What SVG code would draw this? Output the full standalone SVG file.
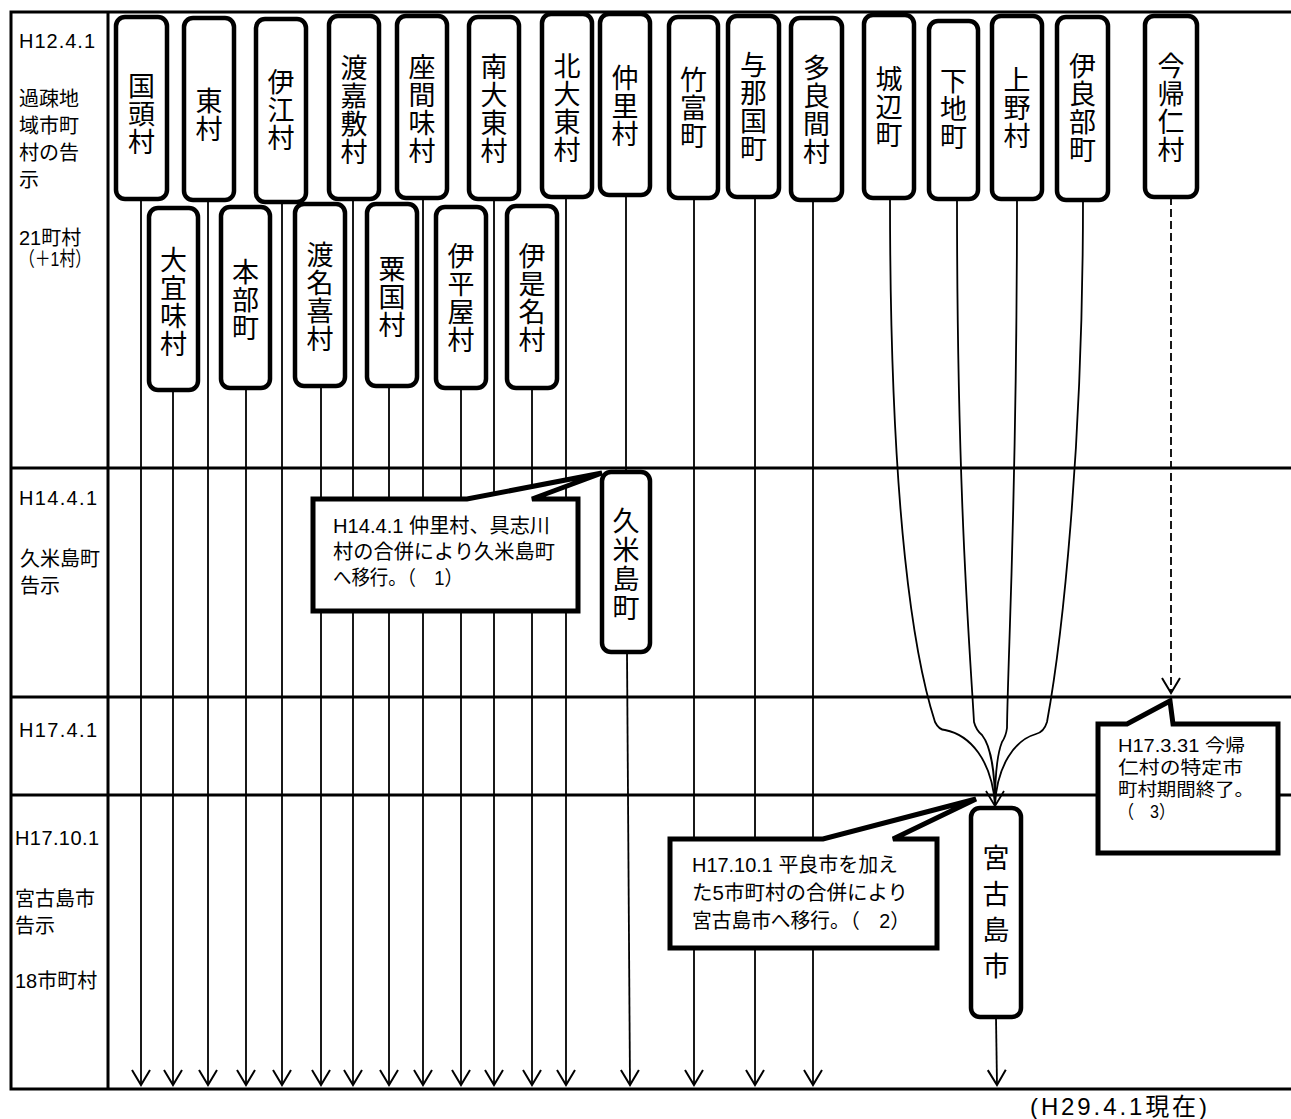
<svg xmlns="http://www.w3.org/2000/svg" width="1291" height="1119" viewBox="0 0 1291 1119">
<style>
.fr{fill:none;stroke:#000;stroke-width:3}
.ln{fill:none;stroke:#000;stroke-width:1.8}
.ar{marker-end:url(#ah)}
.dash{stroke-dasharray:8 4}
.box{fill:#fff;stroke:#000;stroke-width:4.5}
.bt{font-family:"Noto Sans CJK JP","Noto Sans CJK SC",sans-serif;font-size:27px;text-anchor:middle;fill:#000}
.lbl{font-family:"Liberation Sans","Noto Sans CJK JP",sans-serif;font-size:20px;fill:#000}
.co{fill:#fff;stroke:#000;stroke-width:5;stroke-linejoin:miter}
.ct{font-family:"Liberation Sans","Noto Sans CJK JP",sans-serif;font-size:20px;fill:#000}
.ct3{font-size:18px}
</style>
<defs>
<marker id="ah" markerUnits="userSpaceOnUse" viewBox="-17 -11 20 22" markerWidth="20" markerHeight="22" refX="0" refY="0" orient="auto">
<path d="M-15,-9 L0,0 L-15,9" fill="none" stroke="#000" stroke-width="2" stroke-dasharray="none"/>
</marker>
</defs>
<rect width="1291" height="1119" fill="#fff"/>

<g id="frame">
<path class="fr" d="M1291,12 H11 V1089 H1291"/>
<path class="fr" d="M108,12 V1089"/>
<path class="fr" d="M11,468 H1291 M11,697 H1291 M11,795 H1291"/>
</g>

<g id="period-labels">
<text class="lbl" x="19" y="48" textLength="76" lengthAdjust="spacing">H12.4.1</text>
<text class="lbl" x="19" y="106">過疎地</text>
<text class="lbl" x="19" y="133">域市町</text>
<text class="lbl" x="19" y="160">村の告</text>
<text class="lbl" x="19" y="187">示</text>
<text class="lbl" x="19" y="245">21町村</text>
<text class="lbl" x="19" y="266" textLength="72" lengthAdjust="spacingAndGlyphs">（＋1村）</text>
<text class="lbl" x="19" y="505" textLength="78" lengthAdjust="spacing">H14.4.1</text>
<text class="lbl" x="20" y="566">久米島町</text>
<text class="lbl" x="20" y="593">告示</text>
<text class="lbl" x="19" y="737" textLength="78" lengthAdjust="spacing">H17.4.1</text>
<text class="lbl" x="15" y="845" textLength="84" lengthAdjust="spacing">H17.10.1</text>
<text class="lbl" x="15" y="906">宮古島市</text>
<text class="lbl" x="15" y="933">告示</text>
<text class="lbl" x="15" y="988">18市町村</text>
</g>

<g id="connectors">
<path class="ln ar" d="M141,199 V1085"/>
<path class="ln ar" d="M208,200 V1085"/>
<path class="ln ar" d="M282,202 V1085"/>
<path class="ln ar" d="M353,199 V1085"/>
<path class="ln ar" d="M423,198 V1085"/>
<path class="ln ar" d="M494,199 V1085"/>
<path class="ln ar" d="M566,197 V1085"/>
<path class="ln ar" d="M694,198 V1085"/>
<path class="ln ar" d="M755,197 V1085"/>
<path class="ln ar" d="M813,200 V1085"/>
<path class="ln ar" d="M173,390 V1085"/>
<path class="ln ar" d="M246,388 V1085"/>
<path class="ln ar" d="M321,386 V1085"/>
<path class="ln ar" d="M389,386 V1085"/>
<path class="ln ar" d="M461,388 V1085"/>
<path class="ln ar" d="M532,388 V1085"/>
<path class="ln" d="M626,195 V472"/>
<path class="ln ar" d="M627,652 L630,1085"/>
<path class="ln ar" d="M996,1017 L997,1085"/>
<path class="ln" d="M890,199 C890,520 915,660 935,722 Q939,730 945,730 C970,735 992,760 995,805"/>
<path class="ln" d="M957,199 C957,500 970,650 974,722 Q976,730 982,735 C990,745 995,770 995,805"/>
<path class="ln" d="M1017,199 C1017,500 1008,650 1007,728 Q1006,736 1002,742 C998,752 995,775 995,805"/>
<path class="ln" d="M1083,199 C1083,450 1062,640 1047,722 Q1044,732 1036,734 C1015,740 997,765 995,805"/>
<path class="ln" d="M986,791 L995,806 L1004,791" stroke-width="2"/>
<path class="ln dash ar" d="M1171,197 V693"/>
</g>

<g id="n-kunigami"><rect class="box" x="116" y="17" width="51" height="182" rx="9"/><text class="bt"><tspan x="141.5" y="96">国</tspan><tspan x="141.5" y="124">頭</tspan><tspan x="141.5" y="152">村</tspan></text></g>
<g id="n-higashi"><rect class="box" x="184" y="18" width="50" height="182" rx="9"/><text class="bt"><tspan x="209" y="111">東</tspan><tspan x="209" y="139">村</tspan></text></g>
<g id="n-ie"><rect class="box" x="256" y="19" width="50" height="183" rx="9"/><text class="bt"><tspan x="281" y="92">伊</tspan><tspan x="281" y="120">江</tspan><tspan x="281" y="148">村</tspan></text></g>
<g id="n-tokashiki"><rect class="box" x="329" y="16" width="50" height="183" rx="9"/><text class="bt"><tspan x="354" y="78">渡</tspan><tspan x="354" y="106">嘉</tspan><tspan x="354" y="134">敷</tspan><tspan x="354" y="162">村</tspan></text></g>
<g id="n-zamami"><rect class="box" x="397" y="16" width="50" height="182" rx="9"/><text class="bt"><tspan x="422" y="77">座</tspan><tspan x="422" y="105">間</tspan><tspan x="422" y="133">味</tspan><tspan x="422" y="161">村</tspan></text></g>
<g id="n-minamidaito"><rect class="box" x="469" y="17" width="50" height="182" rx="9"/><text class="bt"><tspan x="494" y="77">南</tspan><tspan x="494" y="105">大</tspan><tspan x="494" y="133">東</tspan><tspan x="494" y="161">村</tspan></text></g>
<g id="n-kitadaito"><rect class="box" x="542" y="14" width="50" height="183" rx="9"/><text class="bt"><tspan x="567" y="76">北</tspan><tspan x="567" y="104">大</tspan><tspan x="567" y="132">東</tspan><tspan x="567" y="160">村</tspan></text></g>
<g id="n-nakazato"><rect class="box" x="600" y="14" width="50" height="181" rx="9"/><text class="bt"><tspan x="625" y="88">仲</tspan><tspan x="625" y="116">里</tspan><tspan x="625" y="144">村</tspan></text></g>
<g id="n-taketomi"><rect class="box" x="669" y="17" width="49" height="181" rx="9"/><text class="bt"><tspan x="693.5" y="90">竹</tspan><tspan x="693.5" y="118">富</tspan><tspan x="693.5" y="146">町</tspan></text></g>
<g id="n-yonaguni"><rect class="box" x="728" y="16" width="51" height="181" rx="9"/><text class="bt"><tspan x="753.5" y="75">与</tspan><tspan x="753.5" y="103">那</tspan><tspan x="753.5" y="131">国</tspan><tspan x="753.5" y="159">町</tspan></text></g>
<g id="n-tarama"><rect class="box" x="791" y="18" width="51" height="182" rx="9"/><text class="bt"><tspan x="816.5" y="78">多</tspan><tspan x="816.5" y="106">良</tspan><tspan x="816.5" y="134">間</tspan><tspan x="816.5" y="162">村</tspan></text></g>
<g id="n-gusukube"><rect class="box" x="864" y="15" width="50" height="183" rx="9"/><text class="bt"><tspan x="889" y="89">城</tspan><tspan x="889" y="117">辺</tspan><tspan x="889" y="145">町</tspan></text></g>
<g id="n-shimoji"><rect class="box" x="929" y="21" width="49" height="178" rx="9"/><text class="bt"><tspan x="953.5" y="91">下</tspan><tspan x="953.5" y="119">地</tspan><tspan x="953.5" y="147">町</tspan></text></g>
<g id="n-ueno"><rect class="box" x="992" y="16" width="50" height="183" rx="9"/><text class="bt"><tspan x="1017" y="90">上</tspan><tspan x="1017" y="118">野</tspan><tspan x="1017" y="146">村</tspan></text></g>
<g id="n-irabu"><rect class="box" x="1057" y="17" width="51" height="183" rx="9"/><text class="bt"><tspan x="1082.5" y="76">伊</tspan><tspan x="1082.5" y="104">良</tspan><tspan x="1082.5" y="132">部</tspan><tspan x="1082.5" y="160">町</tspan></text></g>
<g id="n-nakijin"><rect class="box" x="1145" y="16" width="52" height="181" rx="9"/><text class="bt"><tspan x="1171" y="76">今</tspan><tspan x="1171" y="104">帰</tspan><tspan x="1171" y="132">仁</tspan><tspan x="1171" y="160">村</tspan></text></g>

<g id="n-ogimi"><rect class="box" x="149" y="208" width="49" height="182" rx="9"/><text class="bt"><tspan x="173.5" y="270">大</tspan><tspan x="173.5" y="298">宜</tspan><tspan x="173.5" y="326">味</tspan><tspan x="173.5" y="354">村</tspan></text></g>
<g id="n-motobu"><rect class="box" x="221" y="207" width="49" height="181" rx="9"/><text class="bt"><tspan x="245.5" y="282">本</tspan><tspan x="245.5" y="310">部</tspan><tspan x="245.5" y="338">町</tspan></text></g>
<g id="n-tonaki"><rect class="box" x="295" y="204" width="50" height="182" rx="9"/><text class="bt"><tspan x="320" y="265">渡</tspan><tspan x="320" y="293">名</tspan><tspan x="320" y="321">喜</tspan><tspan x="320" y="349">村</tspan></text></g>
<g id="n-aguni"><rect class="box" x="367" y="204" width="50" height="182" rx="9"/><text class="bt"><tspan x="392" y="279">粟</tspan><tspan x="392" y="307">国</tspan><tspan x="392" y="335">村</tspan></text></g>
<g id="n-iheya"><rect class="box" x="436" y="207" width="50" height="181" rx="9"/><text class="bt"><tspan x="461" y="266">伊</tspan><tspan x="461" y="294">平</tspan><tspan x="461" y="322">屋</tspan><tspan x="461" y="350">村</tspan></text></g>
<g id="n-izena"><rect class="box" x="507" y="206" width="50" height="182" rx="9"/><text class="bt"><tspan x="532" y="266">伊</tspan><tspan x="532" y="294">是</tspan><tspan x="532" y="322">名</tspan><tspan x="532" y="350">村</tspan></text></g>

<g id="n-kumejima"><rect class="box" x="602" y="472" width="48" height="180" rx="9"/><text class="bt"><tspan x="626" y="531">久</tspan><tspan x="626" y="560">米</tspan><tspan x="626" y="589">島</tspan><tspan x="626" y="618">町</tspan></text></g>
<g id="n-miyakojima"><rect class="box" x="971" y="808" width="50" height="209" rx="9"/><text class="bt"><tspan x="996" y="868">宮</tspan><tspan x="996" y="904">古</tspan><tspan x="996" y="940">島</tspan><tspan x="996" y="976">市</tspan></text></g>

<g id="callout-1">
<path class="co" d="M313,499 H467 L602,473 L532,499 H578 V611 H313 Z"/>
<text class="ct" x="333" y="533" textLength="217" lengthAdjust="spacingAndGlyphs">H14.4.1 仲里村、具志川</text>
<text class="ct" x="333" y="559" textLength="222" lengthAdjust="spacingAndGlyphs">村の合併により久米島町</text>
<text class="ct" x="333" y="585" textLength="130" lengthAdjust="spacingAndGlyphs">へ移行。（　1）</text>
</g>

<g id="callout-2">
<path class="co" d="M670,839 H823 L976,799 L893,839 H937 V948 H670 Z"/>
<text class="ct" x="692" y="872" textLength="206" lengthAdjust="spacingAndGlyphs">H17.10.1 平良市を加え</text>
<text class="ct" x="692" y="900" textLength="216" lengthAdjust="spacingAndGlyphs">た5市町村の合併により</text>
<text class="ct" x="692" y="928" textLength="218" lengthAdjust="spacingAndGlyphs">宮古島市へ移行。（　2）</text>
</g>

<g id="callout-3">
<path class="co" d="M1098,724 H1127 L1170,701 L1173,724 H1278 V853 H1098 Z"/>
<text class="ct ct3" x="1118" y="752" textLength="127" lengthAdjust="spacingAndGlyphs">H17.3.31 今帰</text>
<text class="ct ct3" x="1118" y="774" textLength="125" lengthAdjust="spacingAndGlyphs">仁村の特定市</text>
<text class="ct ct3" x="1118" y="796" textLength="136" lengthAdjust="spacingAndGlyphs">町村期間終了。</text>
<text class="ct ct3" x="1118" y="818" textLength="57" lengthAdjust="spacingAndGlyphs">（　3）</text>
</g>

<g id="note">
<text class="lbl" x="1030" y="1115" style="font-size:24px" textLength="177" lengthAdjust="spacing">(H29.4.1現在)</text>
</g>
</svg>
